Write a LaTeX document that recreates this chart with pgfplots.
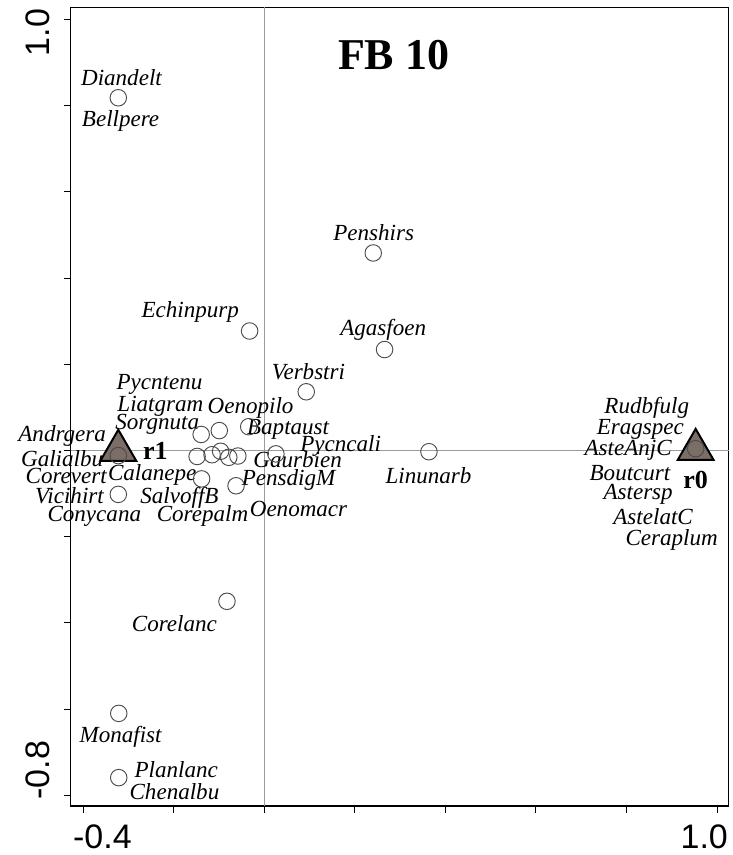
\documentclass[border=0pt]{standalone}
\usepackage{pgfplots}
\pgfplotsset{compat=1.18}
\usepackage{fontspec}
\setmainfont{Liberation Serif}
\newfontfamily\arialf{Liberation Sans}
\definecolor{trifill}{RGB}{122,110,102}
\definecolor{ptcol}{RGB}{75,75,75}
\definecolor{crossc}{RGB}{155,155,155}
\tikzset{lab/.style={font=\itshape\fontsize{17.3}{20}\selectfont, inner sep=0pt}}
\begin{document}
\begin{tikzpicture}
\useasboundingbox (-53.0pt,-36.75pt) rectangle (496.7pt,604.5pt);
\begin{axis}[
 at={(0,0)}, anchor=south west,
 scale only axis, width=493.7pt, height=599pt,
 xmin=-0.4272, xmax=1.0265, ymin=-0.8248, ymax=1.0278,
 axis line style={line width=0.8pt},
 xtick={-0.4,-0.2,0,0.2,0.4,0.6,0.8,1.0},
 ytick={-0.8,-0.6,-0.4,-0.2,0,0.2,0.4,0.6,0.8,1.0},
 xticklabels={}, yticklabels={},
 tick pos=left,
 tick align=outside, major tick length=5pt,
 tick style={black, line width=0.6pt},
 extra x ticks={-0.357,0.972},
 extra x tick labels={-0.4,1.0},
 extra y ticks={0.969,-0.742},
 extra y tick labels={1.0,-0.8},
 extra tick style={major tick length=0pt, grid=none},
 xticklabel style={font=\arialf\fontsize{25.5}{25.5}\selectfont, inner sep=0pt, anchor=north, yshift=-14pt},
 yticklabel style={font=\arialf\fontsize{25.5}{25.5}\selectfont, xshift=-15.3pt, rotate=90, anchor=south, inner sep=0pt},
 clip=false,
]
% crosshair lines
\addplot[crossc, line width=0.75pt, no marks] coordinates {(0,-0.8248) (0,1.0278)};
\addplot[crossc, line width=0.75pt, no marks] coordinates {(-0.4272,0) (1.0265,0)};
% group centroids (triangles)
\addplot[only marks, mark=triangle*, mark size=15.5pt, mark options={fill=trifill, draw=black, line width=1.5pt}] coordinates {(-0.322,0.000) (0.953,0.002)};
% species points
\addplot[only marks, mark=o, mark size=6.2pt, mark options={draw=ptcol, line width=0.7pt}] coordinates {
(-0.322,0.818)
(0.241,0.458)
(0.266,0.234)
(-0.032,0.277)
(0.093,0.136)
(0.364,-0.003)
(0.953,0.004)
(-0.322,-0.012)
(-0.139,0.037)
(-0.099,0.046)
(-0.034,0.055)
(-0.148,-0.014)
(-0.115,-0.010)
(-0.096,-0.002)
(-0.078,-0.016)
(-0.058,-0.013)
(0.026,-0.008)
(-0.138,-0.066)
(-0.062,-0.082)
(-0.322,-0.102)
(-0.082,-0.350)
(-0.321,-0.610)
(-0.321,-0.759)
};
% title
\node[font=\bfseries\fontsize{33}{33}\selectfont, inner sep=0pt] at (axis cs:0.286,0.917) {FB 10};
% group labels
\node[font=\bfseries\fontsize{19.5}{20}\selectfont, inner sep=0pt] at (axis cs:-0.240,-0.002) {r1};
\node[font=\bfseries\fontsize{19.5}{20}\selectfont, inner sep=0pt] at (axis cs:0.953,-0.068) {r0};
% species labels
\node[lab] at (axis cs:-0.315,0.864) {Diandelt};
\node[lab] at (axis cs:-0.317,0.765) {Bellpere};
\node[lab] at (axis cs:0.242,0.505) {Penshirs};
\node[lab] at (axis cs:-0.163,0.322) {Echinpurp};
\node[lab] at (axis cs:0.263,0.280) {Agasfoen};
\node[lab] at (axis cs:0.098,0.183) {Verbstri};
\node[lab] at (axis cs:-0.231,0.153) {Pycntenu};
\node[lab] at (axis cs:-0.229,0.103) {Liatgram};
\node[lab] at (axis cs:-0.030,0.099) {Oenopilo};
\node[lab] at (axis cs:-0.236,0.060) {Sorgnuta};
\node[lab] at (axis cs:0.053,0.048) {Baptaust};
\node[lab] at (axis cs:-0.446,0.034) {Andrgera};
\node[lab] at (axis cs:0.169,0.011) {Pycncali};
\node[lab] at (axis cs:-0.446,-0.019) {Galialbu};
\node[lab] at (axis cs:0.074,-0.022) {Gaurbien};
\node[lab] at (axis cs:-0.247,-0.056) {Calanepe};
\node[lab] at (axis cs:-0.437,-0.060) {Corevert};
\node[lab] at (axis cs:0.363,-0.058) {Linunarb};
\node[lab] at (axis cs:0.054,-0.069) {PensdigM};
\node[lab] at (axis cs:-0.430,-0.105) {Vicihirt};
\node[lab] at (axis cs:-0.187,-0.109) {SalvoffB};
\node[lab] at (axis cs:-0.375,-0.153) {Conycana};
\node[lab] at (axis cs:-0.136,-0.153) {Corepalm};
\node[lab] at (axis cs:0.076,-0.137) {Oenomacr};
\node[lab] at (axis cs:-0.198,-0.401) {Corelanc};
\node[lab] at (axis cs:-0.317,-0.664) {Monafist};
\node[lab] at (axis cs:-0.194,-0.740) {Planlanc};
\node[lab] at (axis cs:-0.198,-0.791) {Chenalbu};
\node[lab] at (axis cs:0.845,0.098) {Rudbfulg};
\node[lab] at (axis cs:0.831,0.048) {Eragspec};
\node[lab] at (axis cs:0.804,0.000) {AsteAnjC};
\node[lab] at (axis cs:0.808,-0.052) {Boutcurt};
\node[lab] at (axis cs:0.826,-0.102) {Astersp};
\node[lab] at (axis cs:0.859,-0.153) {AstelatC};
\node[lab] at (axis cs:0.900,-0.208) {Ceraplum};
\end{axis}
\end{tikzpicture}
\end{document}
